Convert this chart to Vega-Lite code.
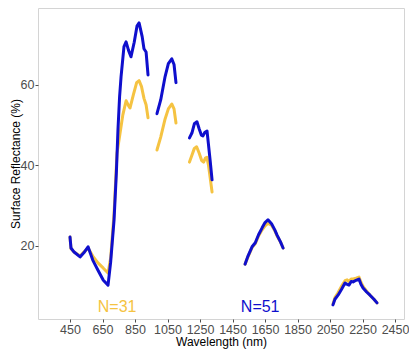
{
  "$schema": "https://vega.github.io/schema/vega-lite/v6.json",
  "width": 366,
  "height": 311,
  "autosize": {"type": "none"},
  "padding": {"left": 38, "top": 8, "right": 5, "bottom": 30},
  "background": "white",
  "config": {
    "view": {"stroke": "#d4d4d4", "strokeWidth": 1},
    "font": "Liberation Sans",
    "axis": {"labelOverlap": false},
    "axisX": {"labelOverlap": false}
  },
  "datasets": {
    "spectra": [
      {"wl": 450, "r": 22.2, "s": "N=31", "g": 1},
      {"wl": 456, "r": 19.3, "s": "N=31", "g": 1},
      {"wl": 475, "r": 18.5, "s": "N=31", "g": 1},
      {"wl": 512, "r": 17.5, "s": "N=31", "g": 1},
      {"wl": 535, "r": 18.5, "s": "N=31", "g": 1},
      {"wl": 561, "r": 19.5, "s": "N=31", "g": 1},
      {"wl": 590, "r": 17.5, "s": "N=31", "g": 1},
      {"wl": 622, "r": 15.8, "s": "N=31", "g": 1},
      {"wl": 655, "r": 14.5, "s": "N=31", "g": 1},
      {"wl": 684, "r": 13.3, "s": "N=31", "g": 1},
      {"wl": 700, "r": 17.0, "s": "N=31", "g": 1},
      {"wl": 721, "r": 28.0, "s": "N=31", "g": 1},
      {"wl": 739, "r": 43.0, "s": "N=31", "g": 1},
      {"wl": 758, "r": 48.0, "s": "N=31", "g": 1},
      {"wl": 775, "r": 52.5, "s": "N=31", "g": 1},
      {"wl": 795, "r": 56.0, "s": "N=31", "g": 1},
      {"wl": 810, "r": 54.8, "s": "N=31", "g": 1},
      {"wl": 819, "r": 54.2, "s": "N=31", "g": 1},
      {"wl": 840, "r": 57.5, "s": "N=31", "g": 1},
      {"wl": 860, "r": 60.5, "s": "N=31", "g": 1},
      {"wl": 875, "r": 61.0, "s": "N=31", "g": 1},
      {"wl": 890, "r": 59.5, "s": "N=31", "g": 1},
      {"wl": 905, "r": 56.6, "s": "N=31", "g": 1},
      {"wl": 918, "r": 55.0, "s": "N=31", "g": 1},
      {"wl": 930, "r": 51.8, "s": "N=31", "g": 1},
      {"wl": 985, "r": 43.8, "s": "N=31", "g": 2},
      {"wl": 1008, "r": 47.0, "s": "N=31", "g": 2},
      {"wl": 1035, "r": 51.5, "s": "N=31", "g": 2},
      {"wl": 1055, "r": 54.0, "s": "N=31", "g": 2},
      {"wl": 1076, "r": 55.2, "s": "N=31", "g": 2},
      {"wl": 1090, "r": 54.0, "s": "N=31", "g": 2},
      {"wl": 1102, "r": 50.5, "s": "N=31", "g": 2},
      {"wl": 1185, "r": 40.8, "s": "N=31", "g": 3},
      {"wl": 1200, "r": 42.5, "s": "N=31", "g": 3},
      {"wl": 1215, "r": 44.2, "s": "N=31", "g": 3},
      {"wl": 1229, "r": 44.6, "s": "N=31", "g": 3},
      {"wl": 1245, "r": 43.0, "s": "N=31", "g": 3},
      {"wl": 1260, "r": 41.2, "s": "N=31", "g": 3},
      {"wl": 1272, "r": 40.8, "s": "N=31", "g": 3},
      {"wl": 1283, "r": 41.8, "s": "N=31", "g": 3},
      {"wl": 1292, "r": 42.0, "s": "N=31", "g": 3},
      {"wl": 1302, "r": 40.0, "s": "N=31", "g": 3},
      {"wl": 1312, "r": 37.0, "s": "N=31", "g": 3},
      {"wl": 1324, "r": 33.4, "s": "N=31", "g": 3},
      {"wl": 1527, "r": 15.5, "s": "N=31", "g": 4},
      {"wl": 1545, "r": 17.3, "s": "N=31", "g": 4},
      {"wl": 1570, "r": 19.6, "s": "N=31", "g": 4},
      {"wl": 1590, "r": 20.6, "s": "N=31", "g": 4},
      {"wl": 1610, "r": 22.5, "s": "N=31", "g": 4},
      {"wl": 1632, "r": 24.0, "s": "N=31", "g": 4},
      {"wl": 1650, "r": 25.0, "s": "N=31", "g": 4},
      {"wl": 1668, "r": 25.6, "s": "N=31", "g": 4},
      {"wl": 1690, "r": 25.2, "s": "N=31", "g": 4},
      {"wl": 1710, "r": 23.8, "s": "N=31", "g": 4},
      {"wl": 1724, "r": 22.5, "s": "N=31", "g": 4},
      {"wl": 1745, "r": 21.0, "s": "N=31", "g": 4},
      {"wl": 1761, "r": 19.5, "s": "N=31", "g": 4},
      {"wl": 2068, "r": 5.6, "s": "N=31", "g": 5},
      {"wl": 2080, "r": 7.2, "s": "N=31", "g": 5},
      {"wl": 2099, "r": 8.4, "s": "N=31", "g": 5},
      {"wl": 2120, "r": 10.0, "s": "N=31", "g": 5},
      {"wl": 2142, "r": 11.4, "s": "N=31", "g": 5},
      {"wl": 2155, "r": 11.6, "s": "N=31", "g": 5},
      {"wl": 2167, "r": 11.2, "s": "N=31", "g": 5},
      {"wl": 2180, "r": 11.8, "s": "N=31", "g": 5},
      {"wl": 2192, "r": 11.8, "s": "N=31", "g": 5},
      {"wl": 2210, "r": 12.0, "s": "N=31", "g": 5},
      {"wl": 2228, "r": 12.3, "s": "N=31", "g": 5},
      {"wl": 2240, "r": 11.0, "s": "N=31", "g": 5},
      {"wl": 2253, "r": 10.0, "s": "N=31", "g": 5},
      {"wl": 2275, "r": 8.8, "s": "N=31", "g": 5},
      {"wl": 2296, "r": 7.8, "s": "N=31", "g": 5},
      {"wl": 2320, "r": 6.8, "s": "N=31", "g": 5},
      {"wl": 2339, "r": 5.9, "s": "N=31", "g": 5},

      {"wl": 450, "r": 22.2, "s": "N=51", "g": 1},
      {"wl": 456, "r": 19.5, "s": "N=51", "g": 1},
      {"wl": 475, "r": 18.5, "s": "N=51", "g": 1},
      {"wl": 512, "r": 17.3, "s": "N=51", "g": 1},
      {"wl": 535, "r": 18.3, "s": "N=51", "g": 1},
      {"wl": 561, "r": 19.8, "s": "N=51", "g": 1},
      {"wl": 590, "r": 16.5, "s": "N=51", "g": 1},
      {"wl": 622, "r": 14.0, "s": "N=51", "g": 1},
      {"wl": 655, "r": 11.5, "s": "N=51", "g": 1},
      {"wl": 684, "r": 10.3, "s": "N=51", "g": 1},
      {"wl": 700, "r": 16.0, "s": "N=51", "g": 1},
      {"wl": 721, "r": 26.5, "s": "N=51", "g": 1},
      {"wl": 735, "r": 38.0, "s": "N=51", "g": 1},
      {"wl": 745, "r": 48.8, "s": "N=51", "g": 1},
      {"wl": 755, "r": 57.0, "s": "N=51", "g": 1},
      {"wl": 764, "r": 61.9, "s": "N=51", "g": 1},
      {"wl": 782, "r": 69.4, "s": "N=51", "g": 1},
      {"wl": 795, "r": 70.6, "s": "N=51", "g": 1},
      {"wl": 810, "r": 68.5, "s": "N=51", "g": 1},
      {"wl": 825, "r": 66.9, "s": "N=51", "g": 1},
      {"wl": 845, "r": 70.5, "s": "N=51", "g": 1},
      {"wl": 862, "r": 74.5, "s": "N=51", "g": 1},
      {"wl": 875, "r": 75.3, "s": "N=51", "g": 1},
      {"wl": 894, "r": 71.9, "s": "N=51", "g": 1},
      {"wl": 905, "r": 68.9, "s": "N=51", "g": 1},
      {"wl": 918, "r": 68.1, "s": "N=51", "g": 1},
      {"wl": 930, "r": 62.4, "s": "N=51", "g": 1},
      {"wl": 985, "r": 52.8, "s": "N=51", "g": 2},
      {"wl": 1008, "r": 56.2, "s": "N=51", "g": 2},
      {"wl": 1035, "r": 62.0, "s": "N=51", "g": 2},
      {"wl": 1055, "r": 65.2, "s": "N=51", "g": 2},
      {"wl": 1076, "r": 66.4, "s": "N=51", "g": 2},
      {"wl": 1090, "r": 65.0, "s": "N=51", "g": 2},
      {"wl": 1102, "r": 60.5, "s": "N=51", "g": 2},
      {"wl": 1185, "r": 46.8, "s": "N=51", "g": 3},
      {"wl": 1200, "r": 48.0, "s": "N=51", "g": 3},
      {"wl": 1215, "r": 50.3, "s": "N=51", "g": 3},
      {"wl": 1231, "r": 50.8, "s": "N=51", "g": 3},
      {"wl": 1245, "r": 49.0, "s": "N=51", "g": 3},
      {"wl": 1258, "r": 47.5, "s": "N=51", "g": 3},
      {"wl": 1268, "r": 47.3, "s": "N=51", "g": 3},
      {"wl": 1280, "r": 48.2, "s": "N=51", "g": 3},
      {"wl": 1293, "r": 48.5, "s": "N=51", "g": 3},
      {"wl": 1301, "r": 45.5, "s": "N=51", "g": 3},
      {"wl": 1312, "r": 41.3, "s": "N=51", "g": 3},
      {"wl": 1324, "r": 36.4, "s": "N=51", "g": 3},
      {"wl": 1527, "r": 15.5, "s": "N=51", "g": 4},
      {"wl": 1545, "r": 17.5, "s": "N=51", "g": 4},
      {"wl": 1570, "r": 19.8, "s": "N=51", "g": 4},
      {"wl": 1590, "r": 20.8, "s": "N=51", "g": 4},
      {"wl": 1610, "r": 22.8, "s": "N=51", "g": 4},
      {"wl": 1632, "r": 24.5, "s": "N=51", "g": 4},
      {"wl": 1650, "r": 25.8, "s": "N=51", "g": 4},
      {"wl": 1668, "r": 26.5, "s": "N=51", "g": 4},
      {"wl": 1690, "r": 25.5, "s": "N=51", "g": 4},
      {"wl": 1710, "r": 24.0, "s": "N=51", "g": 4},
      {"wl": 1724, "r": 22.7, "s": "N=51", "g": 4},
      {"wl": 1745, "r": 21.0, "s": "N=51", "g": 4},
      {"wl": 1761, "r": 19.5, "s": "N=51", "g": 4},
      {"wl": 2068, "r": 5.4, "s": "N=51", "g": 5},
      {"wl": 2080, "r": 6.8, "s": "N=51", "g": 5},
      {"wl": 2099, "r": 7.8, "s": "N=51", "g": 5},
      {"wl": 2120, "r": 9.2, "s": "N=51", "g": 5},
      {"wl": 2142, "r": 10.8, "s": "N=51", "g": 5},
      {"wl": 2155, "r": 10.5, "s": "N=51", "g": 5},
      {"wl": 2167, "r": 10.3, "s": "N=51", "g": 5},
      {"wl": 2180, "r": 11.2, "s": "N=51", "g": 5},
      {"wl": 2192, "r": 11.1, "s": "N=51", "g": 5},
      {"wl": 2210, "r": 11.5, "s": "N=51", "g": 5},
      {"wl": 2228, "r": 11.8, "s": "N=51", "g": 5},
      {"wl": 2240, "r": 10.5, "s": "N=51", "g": 5},
      {"wl": 2253, "r": 9.6, "s": "N=51", "g": 5},
      {"wl": 2275, "r": 8.6, "s": "N=51", "g": 5},
      {"wl": 2296, "r": 7.8, "s": "N=51", "g": 5},
      {"wl": 2320, "r": 6.8, "s": "N=51", "g": 5},
      {"wl": 2339, "r": 5.9, "s": "N=51", "g": 5}
    ],
    "labels": [
      {"wl": 740, "r": 4.9, "s": "N=31"},
      {"wl": 1620, "r": 4.9, "s": "N=51"}
    ]
  },
  "encoding": {
    "x": {
      "field": "wl", "type": "quantitative",
      "scale": {"domain": [253, 2505], "nice": false, "zero": false},
      "axis": {
        "title": "Wavelength (nm)",
        "values": [450, 650, 850, 1050, 1250, 1450, 1650, 1850, 2050, 2250, 2450],
        "format": "d",
        "grid": false, "domain": false,
        "tickSize": 3, "tickColor": "#4d4d4d",
        "labelFontSize": 12.5, "labelColor": "#4d4d4d", "labelPadding": 1,
        "labelOverlap": false, "labelFlush": false, "labelSeparation": 0, "labelBound": false,
        "titleFontSize": 12, "titleFontWeight": "normal", "titleColor": "#000000", "titlePadding": 1
      }
    },
    "y": {
      "field": "r", "type": "quantitative",
      "scale": {"domain": [1.9, 79], "nice": false, "zero": false},
      "axis": {
        "title": "Surface Reflectance (%)",
        "values": [20, 40, 60],
        "grid": false, "domain": false,
        "tickSize": 3, "tickColor": "#4d4d4d",
        "labelFontSize": 12.5, "labelColor": "#4d4d4d", "labelPadding": 1,
        "titleFontSize": 12, "titleFontWeight": "normal", "titleColor": "#000000",
        "titleX": -23, "titleBaseline": "middle"
      }
    },
    "color": {
      "field": "s", "type": "nominal",
      "scale": {"domain": ["N=31", "N=51"], "range": ["#F5C342", "#0F0FCD"]},
      "legend": null
    }
  },
  "layer": [
    {
      "data": {"name": "spectra"},
      "mark": {"type": "line", "strokeWidth": 3, "strokeJoin": "round", "strokeCap": "round"},
      "encoding": {
        "detail": {"field": "g", "type": "nominal"}
      }
    },
    {
      "data": {"name": "labels"},
      "mark": {"type": "text", "fontSize": 16, "baseline": "middle", "align": "center"},
      "encoding": {
        "text": {"field": "s"}
      }
    }
  ]
}
